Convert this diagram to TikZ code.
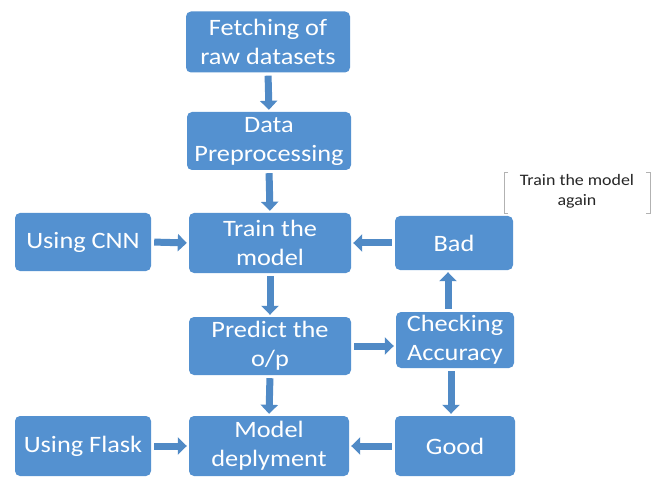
\documentclass[tikz,border=0pt]{standalone}
\usepackage{fontspec}
\setmainfont{Carlito}[FakeStretch=1.12]
\usetikzlibrary{arrows.meta}
\definecolor{boxblue}{RGB}{84,145,208}
\definecolor{arrblue}{RGB}{80,138,198}
\begin{document}
\begin{tikzpicture}[x=1pt,y=-1pt,
  box/.style={draw=none,fill=boxblue,rounded corners=5pt,text=white,align=center,
    font=\fontsize{23.5}{29}\selectfont,inner sep=0pt},
  flow/.style={draw=arrblue,line width=7pt,-{Triangle[length=9pt,width=17pt]},shorten >=2pt,shorten <=3pt}]
\useasboundingbox (0,0) rectangle (658,478);
\fill[white] (0,0) rectangle (658,478);
\node[box,minimum width=164pt,minimum height=61pt] (fetch) at (268,42) {Fetching of\\raw datasets};
\node[box,minimum width=164pt,minimum height=58pt] (prep) at (269,141) {Data\\Preprocessing};
\node[box,minimum width=162pt,minimum height=60pt] (train) at (270,243) {Train the\\model};
\node[box,minimum width=136pt,minimum height=58pt] (cnn) at (83,242) {Using CNN};
\node[box,minimum width=118pt,minimum height=54pt] (bad) at (454,243) {Bad};
\node[box,minimum width=162pt,minimum height=58pt] (predict) at (270,346) {Predict the\\o/p};
\node[box,minimum width=118pt,minimum height=56pt] (check) at (455,340) {Checking\\Accuracy};
\node[box,minimum width=160pt,minimum height=60pt] (model) at (269,446) {Model\\deplyment};
\node[box,minimum width=136pt,minimum height=60pt] (flask) at (83,446) {Using Flask};
\node[box,minimum width=120pt,minimum height=60pt] (good) at (455,446) {Good};
% callout
\node[align=center,font=\fontsize{16}{20}\selectfont,text=black!85] (note) at (577,191) {Train the model\\again};
\coordinate (nl) at (504,172);
\coordinate (nr) at (650,172);
\draw[black!30,line width=0.8pt] ([xshift=4pt]nl) -- (nl) -- ++(0,41) -- ++(4,0);
\draw[black!30,line width=0.8pt] ([xshift=-4pt]nr) -- (nr) -- ++(0,41) -- ++(-4,0);
% arrows
\draw[flow] (fetch.south) -- (prep.north);
\draw[flow] (prep.south) -- (train.north);
\draw[flow] (cnn.east) -- (train.west);
\draw[flow] (bad.west) -- (train.east);
\draw[flow] (train.south) -- (predict.south |- predict.north);
\draw[flow] (predict.east) -- (predict.east -| check.west);
\draw[flow] ([xshift=-7pt]check.north) -- ([xshift=-7pt]check.north |- bad.south);
\draw[flow] ([xshift=-4pt]check.south) -- ([xshift=-4pt]check.south |- good.north);
\draw[flow] (predict.south) -- (model.north);
\draw[flow] (flask.east) -- (model.west);
\draw[flow] (good.west) -- (model.east);
\end{tikzpicture}
\end{document}
